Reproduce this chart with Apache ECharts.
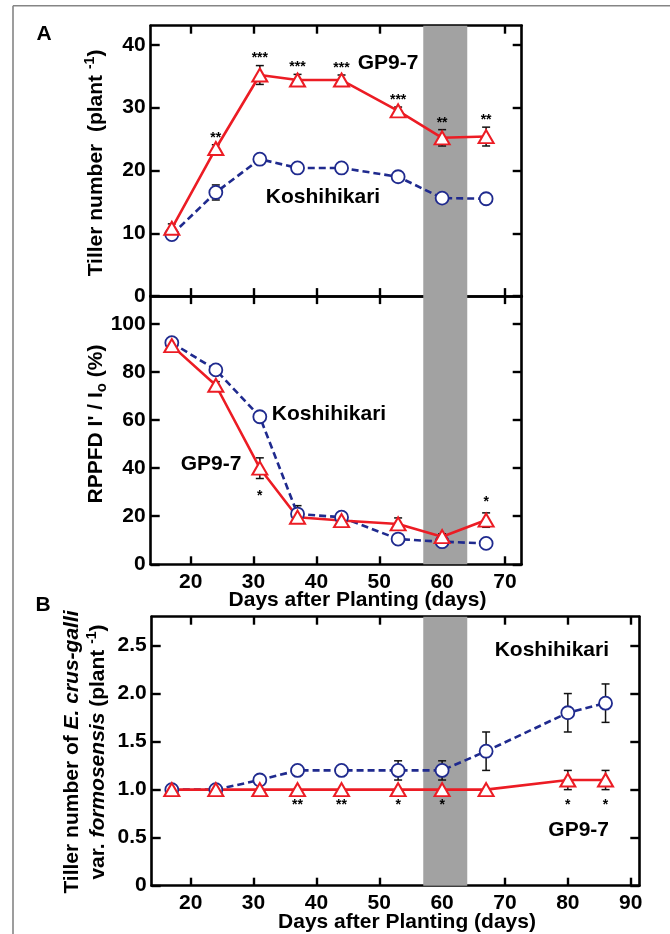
<!DOCTYPE html>
<html>
<head>
<meta charset="utf-8">
<script src="https://cdn.jsdelivr.net/npm/echarts@6/dist/echarts.min.js"></script>
<style>html,body{margin:0;padding:0;background:#fff;}#chart{width:670px;height:934px;}</style>
</head>
<body>
<div id="chart"></div>
<script>
// ---------- data ----------
const daysA = [17, 24, 31, 37, 44, 53, 60, 67];
const tillerGP = [10.8, 23.5, 35.2, 34.4, 34.4, 29.5, 25.2, 25.4];
const tillerGPErr = [0.7, 0.6, 1.5, 0.9, 0.8, 0.6, 1.3, 1.5];
const tillerKo = [9.8, 16.5, 21.8, 20.4, 20.4, 19.0, 15.6, 15.5];
const tillerKoErr = [0.3, 1.2, 0.6, 0.3, 0.3, 0.3, 0.3, 0.3];
const tillerStars = ['', '**', '***', '***', '***', '***', '**', '**'];

const rppfdGP = [91.0, 74.5, 40.0, 19.6, 18.2, 16.8, 11.5, 18.4];
const rppfdGPErr = [1.0, 1.5, 4.3, 1.5, 1.2, 2.5, 1.2, 3.0];
const rppfdKo = [92.2, 80.9, 61.4, 20.9, 19.6, 10.5, 9.4, 8.7];
const rppfdKoErr = [0.8, 1.0, 1.2, 3.5, 1.2, 0.8, 0.8, 0.6];
const rppfdStars = ['', '', '*', '', '', '', '', '*'];

const daysB = [17, 24, 31, 37, 44, 53, 60, 67, 80, 86];
const weedKo = [1.0, 1.0, 1.1, 1.2, 1.2, 1.2, 1.2, 1.4, 1.8, 1.9];
const weedKoErr = [0, 0, 0, 0, 0, 0.1, 0.1, 0.2, 0.2, 0.2];
const weedGP = [1.0, 1.0, 1.0, 1.0, 1.0, 1.0, 1.0, 1.0, 1.1, 1.1];
const weedGPErr = [0, 0, 0, 0, 0, 0, 0, 0, 0.1, 0.1];
const weedStars = ['', '', '', '**', '**', '*', '*', '', '*', '*'];

const shadeDays = [57, 64];
const xTicksA = [20, 30, 40, 50, 60, 70];
const xTicksB = [20, 30, 40, 50, 60, 70, 80, 90];
const yTicksTiller = [0, 10, 20, 30, 40];
const yTicksRppfd = [0, 20, 40, 60, 80, 100];
const yTicksWeed = [0, 0.5, 1.0, 1.5, 2.0, 2.5];

// ---------- style ----------
const FONT = "'Liberation Sans', Arial, Helvetica, sans-serif";
const RED = '#ec1c24';
const NAVY = '#1f2a8e';
const SHADE = '#a2a2a2';

const chart = echarts.init(document.getElementById('chart'), null, {renderer: 'canvas'});

function xAx(gi, min, max, ticks, showLabel, pos) {
  return {
    type: 'value', gridIndex: gi, min: min, max: max, position: pos, splitNumber: 6,
    splitLine: {show: false},
    axisLine: {show: true, onZero: false, lineStyle: {color: '#000', width: 2.6}},
    axisTick: {show: true, inside: true, length: 8, lineStyle: {color: '#000', width: 2.4}, customValues: ticks},
    axisLabel: {show: showLabel, customValues: ticks, margin: 7, fontSize: 21, fontWeight: 'bold',
      color: '#000', fontFamily: FONT}
  };
}
function yAx(gi, min, max, ticks, showLabel, pos, fmt) {
  return {
    type: 'value', gridIndex: gi, min: min, max: max, position: pos,
    splitLine: {show: false},
    axisLine: {show: true, onZero: false, lineStyle: {color: '#000', width: 2.6}},
    axisTick: {show: true, inside: true, length: 9, lineStyle: {color: '#000', width: 2.4}, customValues: ticks},
    axisLabel: {show: showLabel, customValues: ticks, margin: 5, fontSize: 21, fontWeight: 'bold',
      color: '#000', fontFamily: FONT, formatter: fmt}
  };
}

function lineSeries(name, xi, days, vals, isGP, withShade) {
  const s = {
    type: 'line', name: name, xAxisIndex: xi, yAxisIndex: xi, z: 3,
    data: days.map((d, i) => [d, vals[i]]),
    symbol: isGP ? 'triangle' : 'circle',
    symbolSize: isGP ? [15, 13] : 13,
    showAllSymbol: true,
    lineStyle: isGP ? {color: RED, width: 2.6, type: 'solid'} : {color: NAVY, width: 2.6, type: [7, 4]},
    itemStyle: {color: '#fff', borderColor: isGP ? RED : NAVY, borderWidth: isGP ? 2 : 1.8, opacity: 1},
    emphasis: {disabled: true},
    animation: false
  };
  if (withShade) {
    s.markArea = {silent: true, itemStyle: {color: SHADE}, data: [[{xAxis: shadeDays[0]}, {xAxis: shadeDays[1]}]]};
  }
  return s;
}

function errSeries(xi, days, vals, errs) {
  return {
    type: 'custom', xAxisIndex: xi, yAxisIndex: xi, z: 2, silent: true, animation: false,
    data: days.map((d, i) => [d, vals[i], errs[i]]),
    encode: {x: 0, y: 1},
    renderItem: function (params, api) {
      const x = api.value(0), v = api.value(1), e = api.value(2);
      if (!e) return null;
      const t = api.coord([x, v + e]), b = api.coord([x, v - e]);
      const st = {stroke: '#111', lineWidth: 1.5};
      return {type: 'group', children: [
        {type: 'line', shape: {x1: t[0], y1: t[1], x2: b[0], y2: b[1]}, style: st},
        {type: 'line', shape: {x1: t[0] - 4, y1: t[1], x2: t[0] + 4, y2: t[1]}, style: st},
        {type: 'line', shape: {x1: b[0] - 4, y1: b[1], x2: b[0] + 4, y2: b[1]}, style: st}
      ]};
    }
  };
}

// stars: placed on GP side away from Koshihikari
function starSeries(xi, days, gp, gpErr, ko, stars, offUp, offDown) {
  return {
    type: 'custom', xAxisIndex: xi, yAxisIndex: xi, z: 4, silent: true, animation: false,
    data: days.map((d, i) => [d, gp[i], gpErr[i], gp[i] >= ko[i] ? 1 : -1]),
    encode: {x: 0, y: 1},
    renderItem: function (params, api) {
      const txt = stars[params.dataIndex];
      if (!txt) return null;
      const x = api.value(0), v = api.value(1), e = api.value(2), side = api.value(3);
      const p = api.coord([x, side > 0 ? v + e : v - e]);
      return {type: 'text', x: p[0], y: side > 0 ? p[1] - offUp : p[1] + offDown,
        style: {text: txt, fontSize: 14, fontWeight: 'bold', fontFamily: FONT, fill: '#000',
          align: 'center', verticalAlign: 'middle'}};
    }
  };
}

function txt(x, y, text, extra) {
  return Object.assign({type: 'text', x: x, y: y, silent: true,
    style: Object.assign({text: text, fontSize: 21, fontWeight: 'bold', fontFamily: FONT, fill: '#000',
      align: 'center', verticalAlign: 'middle'}, extra || {})});
}
const richBase = {
  a: {fontSize: 21, fontWeight: 'bold', fontFamily: FONT, lineHeight: 26},
  i: {fontSize: 21, fontWeight: 'bold', fontStyle: 'italic', fontFamily: FONT, lineHeight: 26},
  s: {fontSize: 14, fontWeight: 'bold', fontFamily: FONT, lineHeight: 14, verticalAlign: 'top'},
  o: {fontSize: 15, fontWeight: 'bold', fontFamily: FONT, lineHeight: 15, verticalAlign: 'bottom'}
};

const fmtInt = v => String(v);
const fmtWeed = v => v === 0 ? '0' : v.toFixed(1);

const option = {
  backgroundColor: '#fff',
  animation: false,
  grid: [
    {left: 150.7, top: 25.7, width: 371, height: 270.4},
    {left: 150.7, top: 296.1, width: 371, height: 268.2},
    {left: 151.7, top: 616.7, width: 487.6, height: 269}
  ],
  xAxis: [
    xAx(0, 13.64, 72.66, xTicksA, false, 'bottom'),
    xAx(1, 13.64, 72.66, xTicksA, true, 'bottom'),
    xAx(2, 13.8, 91.37, xTicksB, true, 'bottom'),
    xAx(0, 13.64, 72.66, xTicksA, false, 'top'),
    xAx(1, 13.64, 72.66, xTicksA, false, 'top'),
    xAx(2, 13.8, 91.37, xTicksB, false, 'top')
  ],
  yAxis: [
    yAx(0, 0, 43.05, yTicksTiller, true, 'left', fmtInt),
    yAx(1, 0, 111.6, yTicksRppfd, true, 'left', fmtInt),
    yAx(2, 0, 2.8, yTicksWeed, true, 'left', fmtWeed),
    yAx(0, 0, 43.05, yTicksTiller, false, 'right', fmtInt),
    yAx(1, 0, 111.6, yTicksRppfd, false, 'right', fmtInt),
    yAx(2, 0, 2.8, yTicksWeed, false, 'right', fmtWeed)
  ],
  series: [
    errSeries(0, daysA, tillerKo, tillerKoErr),
    errSeries(0, daysA, tillerGP, tillerGPErr),
    lineSeries('Koshihikari', 0, daysA, tillerKo, false, true),
    lineSeries('GP9-7', 0, daysA, tillerGP, true, false),
    starSeries(0, daysA, tillerGP, tillerGPErr, tillerKo, tillerStars, 7, 18),

    errSeries(1, daysA, rppfdKo, rppfdKoErr),
    errSeries(1, daysA, rppfdGP, rppfdGPErr),
    lineSeries('Koshihikari', 1, daysA, rppfdKo, false, true),
    lineSeries('GP9-7', 1, daysA, rppfdGP, true, false),
    starSeries(1, daysA, rppfdGP, rppfdGPErr, rppfdKo, rppfdStars, 11, 18),

    errSeries(2, daysB, weedKo, weedKoErr),
    errSeries(2, daysB, weedGP, weedGPErr),
    lineSeries('Koshihikari', 2, daysB, weedKo, false, true),
    lineSeries('GP9-7', 2, daysB, weedGP, true, false),
    starSeries(2, daysB, weedGP, weedGPErr, weedKo, weedStars, 10, 16)
  ],
  graphic: [
    {type: 'line', silent: true, shape: {x1: 13, y1: 5.7, x2: 670, y2: 5.7}, style: {stroke: '#858585', lineWidth: 1.6}},
    {type: 'line', silent: true, shape: {x1: 13, y1: 5.7, x2: 13, y2: 934}, style: {stroke: '#858585', lineWidth: 1.6}},
    txt(44, 34, 'A'),
    txt(43, 605, 'B'),
    txt(388, 63.5, 'GP9-7'),
    txt(323, 197, 'Koshihikari'),
    txt(329, 414.5, 'Koshihikari'),
    txt(211, 464.5, 'GP9-7'),
    txt(609, 650, 'Koshihikari', {align: 'right'}),
    txt(609, 830, 'GP9-7', {align: 'right'}),
    txt(357.5, 600, 'Days after Planting (days)'),
    txt(407, 922.5, 'Days after Planting (days)'),
    {type: 'text', x: 96, y: 163, rotation: Math.PI / 2, silent: true,
      style: {text: '{a|Tiller number  (plant }{s|-1}{a|)}', rich: richBase, fill: '#000',
        align: 'center', verticalAlign: 'middle'}},
    {type: 'text', x: 96.5, y: 424, rotation: Math.PI / 2, silent: true,
      style: {text: "{a|RPPFD I' / I}{o|o}{a| (%)}", rich: richBase, fill: '#000',
        align: 'center', verticalAlign: 'middle'}},
    {type: 'text', x: 85, y: 752, rotation: Math.PI / 2, silent: true,
      style: {text: '{a|Tiller number of }{i|E. crus-galli}\n{a|var. }{i|formosensis}{a| (plant }{s|-1}{a|)}',
        rich: richBase, fill: '#000', align: 'center', verticalAlign: 'middle'}}
  ]
};
chart.setOption(option);
</script>
</body>
</html>
